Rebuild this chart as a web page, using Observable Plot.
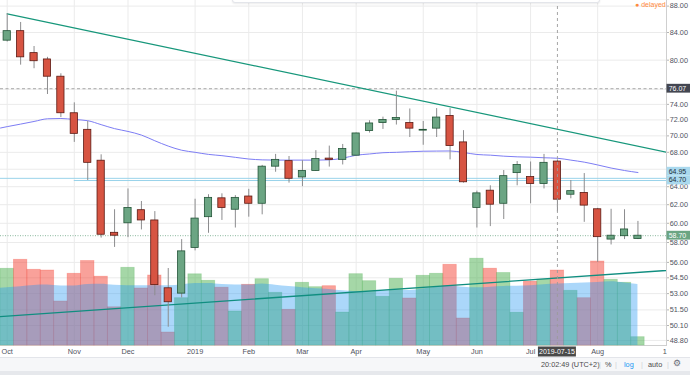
<!DOCTYPE html>
<html><head><meta charset="utf-8">
<script src="https://cdn.jsdelivr.net/npm/d3@7"></script>
<script src="https://cdn.jsdelivr.net/npm/@observablehq/plot@0.6"></script>
<style>
html,body{margin:0;padding:0;background:#fff;}
#wrap{position:relative;width:690px;height:375px;overflow:hidden;font-family:"Liberation Sans",Arial,sans-serif;}
#wrap svg{position:absolute;left:0;top:0;}
#topbox{position:absolute;left:232px;top:-7px;width:366px;height:8px;border:1px solid #e3e5ea;border-radius:3px;background:#fff;box-shadow:0 1px 2px rgba(0,0,0,0.08);}
#delayed{position:absolute;left:635px;top:0px;font-size:7px;color:#ff8a3d;line-height:10px;}
#toolbar{position:absolute;left:0;top:357px;width:690px;height:13px;background:#f6f7f9;border-top:1px solid #e3e5ea;font-size:7.3px;color:#4a4a4a;}
#toolbar span{position:absolute;top:2px;}
#toolbar .sep{color:#d0d3d8;}
#bottom{position:absolute;left:0;top:370px;width:690px;height:5px;background:#e6e8ec;}
</style></head><body><div id="wrap"><div id="bottom"></div></div>
<script>
// ---- data (Brent crude, weekly) ----
const weeks = ["2018-10-01","2018-10-08","2018-10-15","2018-10-22","2018-10-29","2018-11-05","2018-11-12","2018-11-19","2018-11-26","2018-12-03","2018-12-10","2018-12-17","2018-12-24","2018-12-31","2019-01-07","2019-01-14","2019-01-21","2019-01-28","2019-02-04","2019-02-11","2019-02-18","2019-02-25","2019-03-04","2019-03-11","2019-03-18","2019-03-25","2019-04-01","2019-04-08","2019-04-15","2019-04-22","2019-04-29","2019-05-06","2019-05-13","2019-05-20","2019-05-27","2019-06-03","2019-06-10","2019-06-17","2019-06-24","2019-07-01","2019-07-08","2019-07-15","2019-07-22","2019-07-29","2019-08-05","2019-08-12","2019-08-19","2019-08-26"];
const open  = [82.8,84.2,81.0,80.1,77.7,72.85,70.75,67.0,59.0,60.0,61.4,60.3,53.5,53.0,57.45,60.65,62.7,61.45,62.9,62.1,66.3,66.95,65.05,65.8,67.25,67.1,67.6,70.6,71.6,72.0,71.6,70.65,70.9,72.5,69.2,61.65,63.55,62.1,65.55,65.1,64.3,66.9,63.1,63.3,61.5,58.3,58.65,58.35];
const high  = [86.8,85.5,81.95,80.4,78.1,74.2,71.8,67.7,61.45,63.75,62.35,61.25,55.4,58.3,62.6,63.1,63.2,63.0,63.7,66.45,67.75,67.5,67.0,68.2,68.75,68.95,70.35,71.9,72.35,75.75,73.4,71.8,73.45,73.45,70.65,63.5,64.1,65.85,66.9,66.85,67.75,67.1,64.7,65.5,61.6,61.5,61.45,60.2];
const low   = [82.6,79.3,78.8,75.3,72.3,69.2,64.7,58.45,57.5,58.5,59.3,52.8,49.95,52.6,57.15,58.95,60.3,59.5,60.65,60.9,65.65,64.4,64.0,65.75,66.25,66.5,67.55,70.35,70.8,71.35,69.8,68.85,69.8,67.1,64.4,59.5,59.65,60.4,64.1,62.1,63.75,61.2,62.65,60.1,56.0,57.75,58.3,58.3];
const close = [84.2,80.4,79.85,77.7,72.85,70.25,66.75,58.8,58.7,61.65,60.3,53.8,52.2,57.1,60.5,62.75,61.65,62.75,62.1,66.3,67.1,64.9,65.8,67.2,67.1,68.4,70.3,71.55,72.0,72.25,70.9,70.75,72.3,68.75,64.5,63.25,62.0,65.2,66.5,64.3,66.75,62.55,63.5,61.9,58.55,58.7,59.35,58.7];
const volume = [767,857,757,750,440,717,845,688,382,777,570,700,130,473,712,647,578,340,607,663,527,357,627,583,593,330,713,643,487,667,470,697,717,807,270,868,768,725,328,638,658,750,547,473,840,657,627,83];
// moving averages (first value = week before the window, 2018-09-24)
const priceMA = [70.8,71.15,71.47,71.8,72.14,72.18,72.05,71.9,71.4,70.9,70.55,70.1,69.4,68.75,68.25,68.0,67.75,67.6,67.4,67.2,67.1,67.07,67.07,67.07,67.07,67.1,67.3,67.65,67.8,67.95,68.0,68.07,68.13,68.15,68.16,67.98,67.74,67.66,67.54,67.46,67.42,67.35,67.29,67.07,66.83,66.5,66.14,65.85,65.62];
const volumeMA = [568,578,587,600,604,595,594,610,612,602,597,597,597,597,605,620,620,610,605,605,615,603,590,578,567,560,547,537,535,545,550,550,565,582,597,582,577,583,590,593,597,607,615,620,624,630,637,625,610];
// drawings: trend line anchors (week index, price)
const trendDownIdx = [0, 52], trendDownPrice = [86.8, 67.05];
const trendUpIdx = [-1, 52], trendUpPrice = [50.86, 55.47];
const lastPrice = 58.70, highMark = 76.07, levelA = 64.95, levelB = 64.70, levelBFrom = 5;
const crossWeek = 41;
// axis ticks
const xTickIdx = [0,5,9,14,18,22,26,31,35,39,44,49];
const xTickLabels = ["Oct","Nov","Dec","2019","Feb","Mar","Apr","May","Jun","Jul","Aug","1"];
const yTicks = [88,84,80,74,72,70,68,64,62,60,58,56,54.5,53,51.5,50.1,48.8];
const yGrid = [88,84,80,76,74,72,70,68,66,64,62,60,58,56,54.5,53,51.5,50.1,48.8];

// ---- tables ----
const candles = weeks.map((w,k)=>({k, week:w, open:open[k], high:high[k], low:low[k], close:close[k], volume:volume[k], up: close[k]>=open[k]}));
const ma = priceMA.map((v,j)=>({k:j-1, v}));
const vma = volumeMA.map((v,j)=>({k:j-1, v}));
const tDown = trendDownIdx.map((k,j)=>({k, p:trendDownPrice[j]}));
const tUp = trendUpIdx.map((k,j)=>({k, p:trendUpPrice[j]}));

const W=690, H=357, MR=24, MB=12;
const xDomain = [-0.5, 49.128];
const yDomain = [48.366, 88.877];
const font = {fontFamily:"'Liberation Sans',Arial,sans-serif", fontSize:"7.3px", color:"#50535e", overflow:"visible"};
const base = {width:W, height:H, marginLeft:0, marginRight:MR, marginTop:0, marginBottom:MB};

// Layer A: grid + axes
const A = Plot.plot({...base, style:{...font, background:"#fff"},
  x:{domain:xDomain, axis:null}, y:{type:"log", domain:yDomain, axis:null},
  marks:[
    Plot.gridY(yGrid, {stroke:"#ebebeb", strokeOpacity:1}),
    Plot.gridX(xTickIdx.slice(0,-1), {stroke:"#ebebeb", strokeOpacity:1}),
    Plot.axisY(yTicks, {anchor:"right", tickSize:2, tickPadding:1.2, tickFormat:d=>d.toFixed(2), stroke:"#b5b5b5"}),
    Plot.axisX(xTickIdx, {anchor:"bottom", tickSize:0, tickPadding:3, tickFormat:(d)=>xTickLabels[xTickIdx.indexOf(d)]}),
    Plot.frame({anchor:"right", stroke:"#cfcfcf"}),
    Plot.frame({anchor:"bottom", stroke:"#cfcfcf"})
  ]});

// Layer B: volume
const B = Plot.plot({...base, style:{...font, background:"transparent"},
  x:{domain:xDomain, axis:null}, y:{domain:[0,3450], axis:null},
  marks:[
    Plot.rect(candles, {x1:d=>d.k-0.5, x2:d=>d.k+0.5, y1:0, y2:"volume",
      fill:d=>d.up?"#4caf50":"#f44336", fillOpacity:0.5,
      stroke:d=>d.up?"#4caf50":"#f44336", strokeOpacity:0.3, strokeWidth:0.8}),
    Plot.areaY(vma, {x:"k", y:"v", fill:"#2196f3", fillOpacity:0.38, curve:"monotone-x", clip:true})
  ]});

// Layer C: price marks
const C = Plot.plot({...base, style:{...font, background:"transparent"},
  x:{domain:xDomain, axis:null}, y:{type:"log", domain:yDomain, axis:null},
  marks:[
    Plot.ruleY([highMark], {stroke:"#9c9c9c", strokeDasharray:"3,2.5", strokeWidth:0.9}),
    Plot.ruleY([levelA], {stroke:"#99d3ea", strokeWidth:1}),
    Plot.ruleY([{p:levelB, from:levelBFrom}], {y:"p", x1:"from", x2:()=>60, stroke:"#99d3ea", strokeWidth:1, clip:true}),
    Plot.ruleY([lastPrice], {stroke:"#6ba583", strokeOpacity:0.8, strokeDasharray:"1,1.5", strokeWidth:1}),
    Plot.line(ma, {x:"k", y:"v", stroke:"#7d7df4", strokeWidth:1, curve:"monotone-x", clip:true}),
    Plot.line(tDown, {x:"k", y:"p", stroke:"#17977b", strokeWidth:1.3, clip:true}),
    Plot.line(tUp, {x:"k", y:"p", stroke:"#108e80", strokeWidth:1.3, clip:true}),
    Plot.ruleX(candles, {x:"k", y1:"low", y2:"high", stroke:"#8c8c8e", strokeWidth:1}),
    Plot.rect(candles, {x1:d=>d.k-0.27, x2:d=>d.k+0.27, y1:"open", y2:"close",
      fill:d=>d.up?"#6ba583":"#d75442", stroke:d=>d.up?"#225437":"#5b1a13", strokeWidth:0.8}),
    Plot.ruleX([crossWeek], {stroke:"#9c9c9c", strokeDasharray:"3,3", strokeWidth:0.9})
  ]});

const wrap = document.getElementById("wrap");
wrap.appendChild(A); wrap.appendChild(B); wrap.appendChild(C);

// badges on the price scale and the time scale
const ns = "http://www.w3.org/2000/svg";
const ys = C.scale("y"), xs = C.scale("x");
function badge(svg, x, y, w, h, bg, fg, txt, anchor){
  const r = document.createElementNS(ns,"rect");
  r.setAttribute("x",x); r.setAttribute("y",y-h/2); r.setAttribute("width",w); r.setAttribute("height",h);
  r.setAttribute("fill",bg); svg.appendChild(r);
  const t = document.createElementNS(ns,"text");
  t.setAttribute("x", anchor==="middle"? x+w/2 : x+2.2); t.setAttribute("y",y);
  t.setAttribute("dy","0.35em"); t.setAttribute("fill",fg);
  t.setAttribute("text-anchor", anchor||"start");
  t.setAttribute("font-size","7px"); t.textContent = txt; svg.appendChild(t);
}
const bh = 8.8, bx = W-MR+0.5, bw = MR-0.5;
const yB = ys.apply(levelB), yA = Math.min(ys.apply(levelA), yB - bh);
badge(C, bx, ys.apply(highMark), bw, bh, "#434651", "#fff", highMark.toFixed(2));
badge(C, bx, yA, bw, bh, "#aad9ee", "#1d2f3b", levelA.toFixed(2));
badge(C, bx, yB, bw, bh, "#aad9ee", "#1d2f3b", levelB.toFixed(2));
badge(C, bx, ys.apply(lastPrice), bw, bh, "#6ba583", "#fff", lastPrice.toFixed(2));
const cx = xs.apply(crossWeek);
badge(C, cx-19, 351.5, 38, 10, "#4a4a4a", "#fff", weeks[crossWeek], "middle");

// chrome
wrap.insertAdjacentHTML("beforeend",
 '<div id="topbox"></div>'+
 '<div id="delayed">&#9679; delayed</div>'+
 '<div id="toolbar">'+
 '<span style="left:541px">20:02:49 (UTC+2)</span>'+
 '<span class="sep" style="left:599px">|</span>'+
 '<span style="left:605px">%</span>'+
 '<span class="sep" style="left:615px">|</span>'+
 '<span style="left:624px;color:#2196f3">log</span>'+
 '<span class="sep" style="left:641px">|</span>'+
 '<span style="left:648px">auto</span>'+
 '<span class="sep" style="left:667px">|</span>'+
 '<span style="left:673px;font-size:9px;top:0px;color:#6a6d78">&#9881;</span>'+
 '</div>');
</script>
</body></html>
